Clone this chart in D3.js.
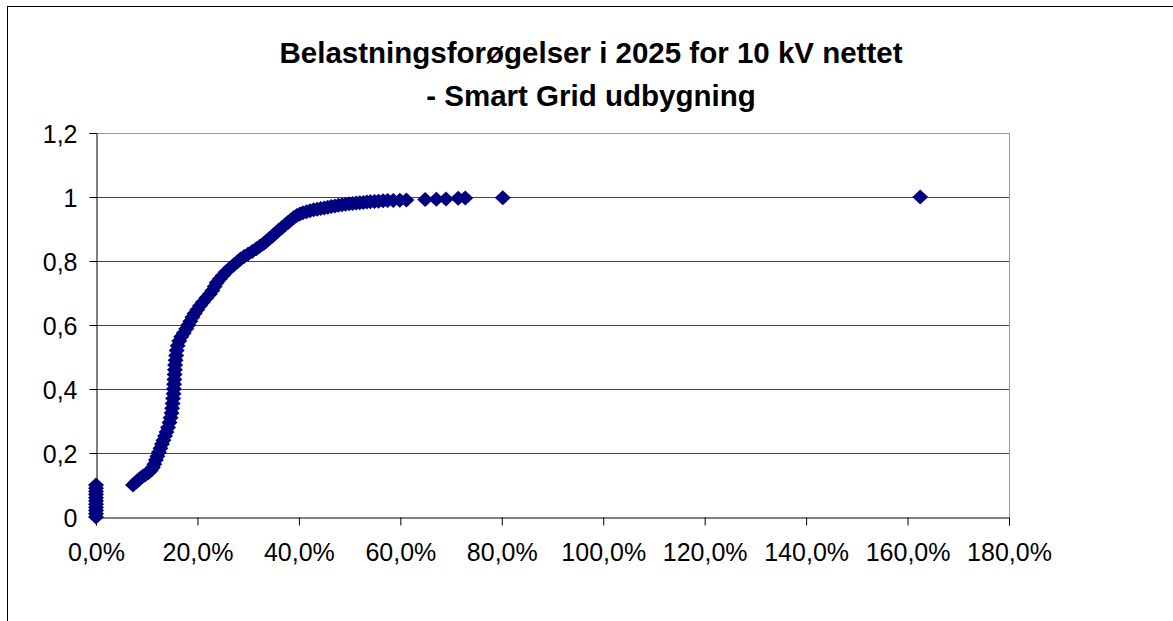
<!DOCTYPE html>
<html>
<head>
<meta charset="utf-8">
<script src="https://cdn.jsdelivr.net/npm/d3@7"></script>
<style>
  body { margin: 0; background: #fff; }
  text { font-family: "Liberation Sans", Arial, sans-serif; }
</style>
</head>
<body>
<div id="chart"></div>
<script>
// Chart texts
const titleLines = ["Belastningsforøgelser i 2025 for 10 kV nettet", "- Smart Grid udbygning"];
const xTicks = [0, 0.2, 0.4, 0.6, 0.8, 1.0, 1.2, 1.4, 1.6, 1.8];
const yTicks = [0, 0.2, 0.4, 0.6, 0.8, 1.0, 1.2];
const yTickLabels = ["0", "0,2", "0,4", "0,6", "0,8", "1", "1,2"];

// Load increase (fraction) and cumulative share
const increase = [
  0, 0, 0, 0, 0, 0, 0, 0, 0, 0, 0,
  0.073, 0.078, 0.083, 0.088, 0.093, 0.098, 0.103, 0.108, 0.112, 0.115,
  0.118, 0.121, 0.124, 0.127, 0.130, 0.133, 0.136, 0.139, 0.142, 0.145,
  0.147, 0.149, 0.150, 0.151, 0.152, 0.153, 0.1535, 0.154, 0.1545, 0.155,
  0.1555, 0.156, 0.157, 0.158, 0.159, 0.161, 0.164, 0.168, 0.173, 0.178,
  0.182, 0.186, 0.190, 0.1945, 0.1995, 0.205, 0.211, 0.2175, 0.224, 0.2295,
  0.234, 0.238, 0.244, 0.250, 0.256, 0.264, 0.272, 0.279, 0.285, 0.292,
  0.300, 0.308, 0.316, 0.323, 0.330, 0.336, 0.342, 0.348, 0.354, 0.360,
  0.367, 0.373, 0.379, 0.385, 0.390, 0.396, 0.402, 0.408, 0.415, 0.422,
  0.429, 0.436, 0.443, 0.450, 0.457, 0.464, 0.471, 0.478, 0.485, 0.492,
  0.499, 0.506, 0.513, 0.520, 0.527, 0.534, 0.541, 0.549, 0.557, 0.566,
  0.575, 0.586, 0.599, 0.612, 0.649, 0.671, 0.690, 0.714, 0.728, 0.802,
  1.625
];
const share = [
  0, 0.01, 0.02, 0.03, 0.04, 0.05, 0.06, 0.07, 0.08, 0.09, 0.10,
  0.100, 0.108, 0.115, 0.122, 0.128, 0.133, 0.138, 0.145, 0.155, 0.165,
  0.178, 0.190, 0.202, 0.215, 0.228, 0.240, 0.253, 0.266, 0.280, 0.295,
  0.310, 0.325, 0.340, 0.355, 0.370, 0.385, 0.400, 0.415, 0.430, 0.445,
  0.460, 0.475, 0.490, 0.505, 0.520, 0.535, 0.550, 0.563, 0.575, 0.588,
  0.600, 0.612, 0.624, 0.636, 0.648, 0.660, 0.672, 0.684, 0.696, 0.708,
  0.720, 0.732, 0.744, 0.755, 0.766, 0.777, 0.788, 0.798, 0.806, 0.814,
  0.822, 0.830, 0.838, 0.846, 0.854, 0.862, 0.870, 0.878, 0.887, 0.896,
  0.905, 0.913, 0.921, 0.929, 0.936, 0.942, 0.947, 0.951, 0.954, 0.957,
  0.960, 0.962, 0.964, 0.966, 0.968, 0.970, 0.972, 0.974, 0.976, 0.977,
  0.979, 0.980, 0.981, 0.982, 0.983, 0.984, 0.985, 0.986, 0.987, 0.988,
  0.989, 0.989, 0.990, 0.991, 0.992, 0.993, 0.994, 0.996, 0.997, 0.998,
  1.000
];

const width = 1173;
const height = 621;
const plot = { left: 96, top: 133, right: 1009, bottom: 517 };

const svg = d3.select("#chart")
              .append("svg")
              .attr("width", width)
              .attr("height", height);

// Outer chart frame (right and bottom edges fall outside the picture)
svg.append("rect")
   .attr("x", 7.5)
   .attr("y", 6.5)
   .attr("width", 1175)
   .attr("height", 640)
   .attr("fill", "#fff")
   .attr("stroke", "#000")
   .attr("stroke-width", 1);

const x = d3.scaleLinear().domain([0, 1.8]).range([plot.left, plot.right]);
const y = d3.scaleLinear().domain([0, 1.2]).range([plot.bottom, plot.top]);

// Title
titleLines.forEach((line, i) => {
  svg.append("text")
     .attr("x", 591)
     .attr("y", 63 + i * 43)
     .attr("text-anchor", "middle")
     .attr("font-size", 29.5)
     .attr("font-weight", "bold")
     .text(line);
});

// Horizontal gridlines
svg.append("g")
   .selectAll("line")
   .data(yTicks.filter(d => d > 0))
   .enter()
   .append("line")
   .attr("x1", plot.left)
   .attr("x2", plot.right)
   .attr("y1", d => Math.round(y(d)) + 0.5)
   .attr("y2", d => Math.round(y(d)) + 0.5)
   .attr("stroke", d => d === 1.2 ? "#999" : "#444")
   .attr("stroke-width", 1);

// Right border of the plot area
svg.append("line")
   .attr("x1", plot.right + 0.5)
   .attr("x2", plot.right + 0.5)
   .attr("y1", plot.top)
   .attr("y2", plot.bottom)
   .attr("stroke", "#999");

// Axes
const xAxis = svg.append("g")
   .attr("transform", `translate(0,${plot.bottom + 0.5})`)
   .call(d3.axisBottom(x)
           .tickValues(xTicks)
           .tickSize(8)
           .tickPadding(18)
           .tickFormat(d => (d * 100).toFixed(1).replace(".", ",") + "%"));

const yAxis = svg.append("g")
   .attr("transform", `translate(${plot.left + 0.5},0)`)
   .call(d3.axisLeft(y)
           .tickValues(yTicks)
           .tickSize(7)
           .tickPadding(12)
           .tickFormat((d, i) => yTickLabels[i]));

[xAxis, yAxis].forEach(g => {
  g.select(".domain").attr("stroke", "#000");
  g.selectAll(".tick line").attr("stroke", "#000");
  g.selectAll(".tick text")
   .attr("font-size", 25)
   .attr("font-family", "'Liberation Sans', Arial, sans-serif")
   .attr("fill", "#000");
});
yAxis.selectAll(".tick text").attr("dy", "0.36em");

// Diamond markers
const diamond = "M0,-7.5L8,0L0,7.5L-8,0Z";
svg.append("g")
   .selectAll("path")
   .data(increase.map((v, i) => [v, share[i]]))
   .enter()
   .append("path")
   .attr("d", diamond)
   .attr("transform", d => `translate(${x(d[0])},${y(d[1])})`)
   .attr("fill", "#000080");
</script>
</body>
</html>
